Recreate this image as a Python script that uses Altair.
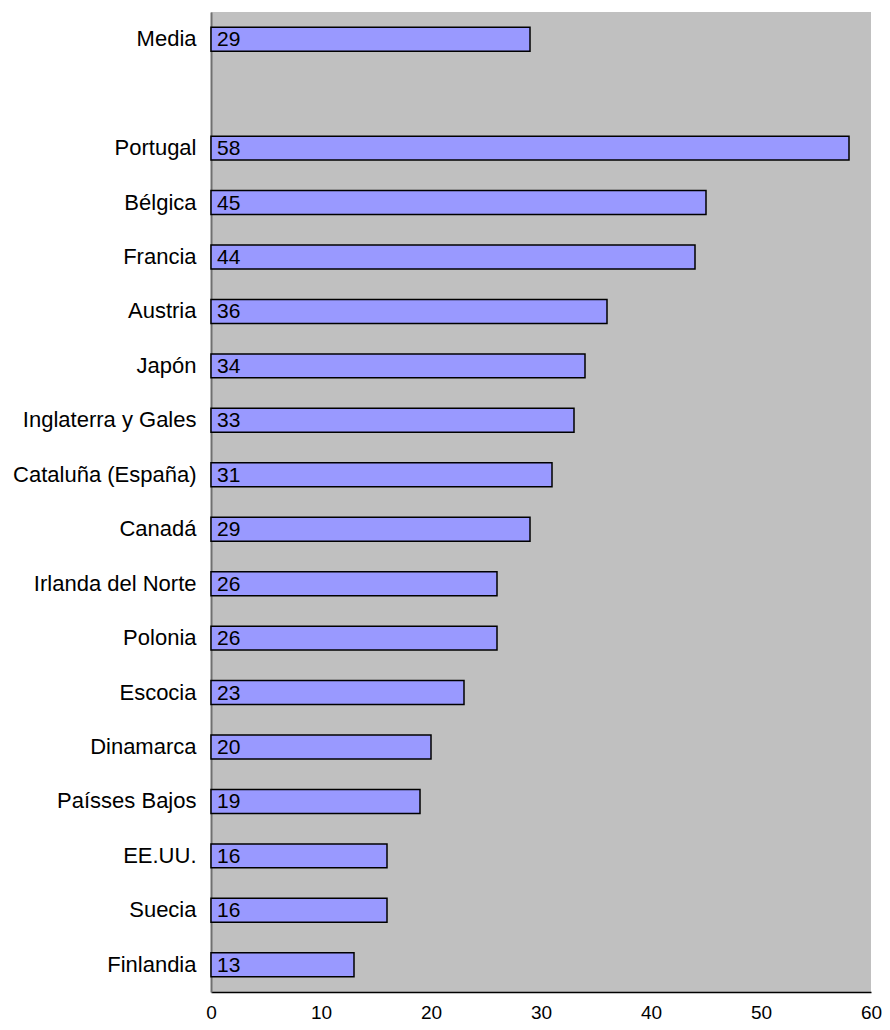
import altair as alt
import pandas as pd

categories = ["Media", " ", "Portugal", "Bélgica", "Francia", "Austria", "Japón",
              "Inglaterra y Gales", "Cataluña (España)", "Canadá", "Irlanda del Norte",
              "Polonia", "Escocia", "Dinamarca", "Paísses Bajos", "EE.UU.", "Suecia", "Finlandia"]
values = [29, None, 58, 45, 44, 36, 34, 33, 31, 29, 26, 26, 23, 20, 19, 16, 16, 13]
x_ticks = [0, 10, 20, 30, 40, 50, 60]

df = pd.DataFrame({"cat": categories, "val": values})
df = df[df["val"].notna()]

FONT = "Liberation Sans"

y_enc = alt.Y("cat:N", sort=categories,
              scale=alt.Scale(domain=categories, paddingInner=0.56, paddingOuter=0.28),
              axis=alt.Axis(title=None, ticks=False, labelFontSize=22, labelFont=FONT,
                            labelColor="black", labelPadding=15, domainColor="#707070",
                            domainWidth=2, labelLimit=400))
x_enc = alt.X("val:Q", scale=alt.Scale(domain=[0, 60], nice=False),
              axis=alt.Axis(title=None, values=x_ticks, ticks=False, grid=False,
                            labelFontSize=19, labelFont=FONT, labelColor="black",
                            labelPadding=11, domainColor="black", domainWidth=1.5,
                            labelFlush=False))

bars = alt.Chart(df).mark_bar(color="#9999FF", stroke="black", strokeWidth=1.5).encode(
    x=x_enc, y=y_enc)

labels = alt.Chart(df).mark_text(align="left", baseline="middle", dx=6, dy=1, fontSize=21,
                                  font=FONT, color="black").encode(
    x=alt.datum(0), y=alt.Y("cat:N", sort=categories), text=alt.Text("val:Q", format="d"))

chart = (bars + labels).properties(
    width=874, height=1014,
    background="white",
    padding={"left": 4, "top": 4, "right": 0, "bottom": 0},
    autosize=alt.AutoSizeParams(type="fit", contains="padding"),
).configure_view(fill="#C0C0C0", strokeWidth=0)

chart.save("out.html", embed_options={"renderer": "svg", "actions": False})
